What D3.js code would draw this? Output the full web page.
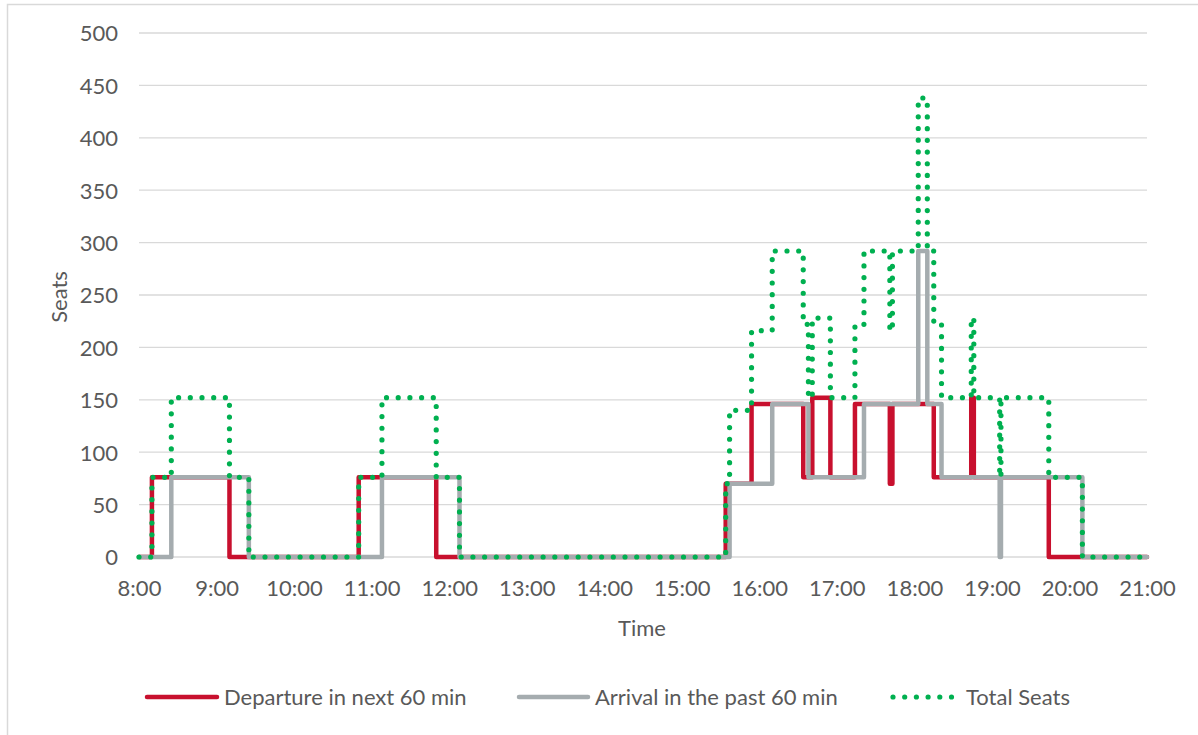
<!DOCTYPE html>
<html>
<head>
<meta charset="utf-8">
<script src="https://cdn.jsdelivr.net/npm/d3@7"></script>
<style>
  body { margin: 0; background: #fff; }
  svg text { font-family: Lato, "Open Sans", sans-serif; fill: #595959; }
</style>
</head>
<body>
<div id="chart-container"></div>
<script>
// step breakpoints (value holds until next time)
const departTimes = ["8:00", "8:10", "9:10", "10:50", "11:50", "15:34", "15:54", "16:34", "16:41", "16:55", "17:14", "17:41", "17:43", "18:15", "18:44", "18:46", "19:44", "21:00"];
const departSeats = [0, 76, 0, 76, 0, 70, 146, 76, 152, 76, 146, 70, 146, 76, 152, 76, 0, 0];

const arrivalTimes = ["8:00", "8:25", "9:25", "11:08", "12:08", "15:37", "16:10", "16:38", "17:21", "18:03", "18:10", "18:21", "19:06", "19:07", "20:10", "21:00"];
const arrivalSeats = [0, 76, 0, 76, 0, 70, 146, 76, 146, 292, 146, 76, 0, 76, 0, 0];

const totalTimes = ["8:00", "8:10", "8:25", "9:10", "9:25", "10:50", "11:08", "11:50", "12:08", "15:34", "15:37", "15:54", "16:10", "16:34", "16:38", "16:41", "16:55", "17:14", "17:21", "17:41", "17:43", "18:03", "18:10", "18:15", "18:21", "18:44", "18:46", "19:06", "19:07", "19:44", "20:10", "21:00"];
const totalSeats = [0, 76, 152, 76, 0, 76, 152, 76, 0, 70, 140, 216, 292, 222, 152, 228, 152, 222, 292, 216, 292, 438, 292, 222, 152, 228, 152, 76, 152, 76, 0, 0];

const seriesNames = ["Departure in next 60 min", "Arrival in the past 60 min", "Total Seats"];
const yTicks = [0, 50, 100, 150, 200, 250, 300, 350, 400, 450, 500];

const W = 1198, H = 735;
const plot = { left: 139, right: 1147, top: 33, bottom: 557 };

const parse = d3.timeParse("%H:%M");
const fmt = d3.timeFormat("%-H:%M");

const svg = d3.select("#chart-container").append("svg")
    .attr("width", W)
    .attr("height", H);

// outer chart border
svg.append("rect")
    .attr("x", 7.5).attr("y", 4.5)
    .attr("width", W + 20).attr("height", H + 20)
    .attr("fill", "#fff")
    .attr("stroke", "#d9d9d9")
    .attr("stroke-width", 1.5);

const x = d3.scaleTime()
    .domain([parse("8:00"), parse("21:00")])
    .range([plot.left, plot.right]);

const y = d3.scaleLinear()
    .domain([0, 500])
    .range([plot.bottom, plot.top]);

// gridlines
svg.append("g")
    .selectAll("line")
    .data(yTicks)
    .enter().append("line")
    .attr("x1", plot.left)
    .attr("x2", plot.right)
    .attr("y1", d => y(d))
    .attr("y2", d => y(d))
    .attr("stroke", "#d9d9d9")
    .attr("stroke-width", 1.3);

// Y axis labels
const yAxis = svg.append("g")
    .attr("transform", `translate(${plot.left - 21},0)`)
    .call(d3.axisLeft(y).tickValues(yTicks).tickSize(0).tickPadding(0));
yAxis.select(".domain").remove();
yAxis.selectAll("text")
    .style("font-size", "22px")
    .attr("dy", "0.36em");

// X axis labels
const xAxis = svg.append("g")
    .attr("transform", `translate(0,${plot.bottom})`)
    .call(d3.axisBottom(x).ticks(d3.timeHour.every(1)).tickFormat(fmt).tickSize(0).tickPadding(0));
xAxis.select(".domain").remove();
xAxis.selectAll("text")
    .style("font-size", "22px")
    .attr("y", 31)
    .attr("dy", "0.36em");

// axis titles
svg.append("text")
    .attr("x", 642)
    .attr("y", 628)
    .attr("dy", "0.36em")
    .attr("text-anchor", "middle")
    .style("font-size", "22px")
    .text("Time");

svg.append("text")
    .attr("transform", "translate(59,297) rotate(-90)")
    .attr("dy", "0.36em")
    .attr("text-anchor", "middle")
    .style("font-size", "22px")
    .text("Seats");

// lines
const line = d3.line()
    .x(d => x(d[0]))
    .y(d => y(d[1]))
    .curve(d3.curveStepAfter);

const series = [
    { times: departTimes, values: departSeats, color: "#c8102e", dash: null, width: 4.5 },
    { times: arrivalTimes, values: arrivalSeats, color: "#a5acaf", dash: null, width: 4.5 },
    { times: totalTimes, values: totalSeats, color: "#00b050", dash: "0 11.7", width: 5.2 }
];

series.forEach(s => {
    const pts = s.times.map((t, i) => [parse(t), s.values[i]]);
    svg.append("path")
        .datum(pts)
        .attr("fill", "none")
        .attr("stroke", s.color)
        .attr("stroke-width", s.width)
        .attr("stroke-linejoin", "round")
        .attr("stroke-linecap", "round")
        .attr("stroke-dasharray", s.dash)
        .attr("d", line);
});

// legend
const legendX = [147, 519, 893];
const legendLen = [70, 69, 66];
const legend = svg.append("g")
    .selectAll("g")
    .data(seriesNames)
    .enter().append("g")
    .attr("transform", (d, i) => `translate(${legendX[i]},697)`);

legend.append("line")
    .attr("x1", 0)
    .attr("x2", (d, i) => legendLen[i])
    .attr("stroke", (d, i) => series[i].color)
    .attr("stroke-width", (d, i) => series[i].width)
    .attr("stroke-linecap", "round")
    .attr("stroke-dasharray", (d, i) => series[i].dash);

legend.append("text")
    .attr("x", (d, i) => legendLen[i] + 7)
    .attr("dy", "0.36em")
    .style("font-size", "22px")
    .text(d => d);
</script>
</body>
</html>
